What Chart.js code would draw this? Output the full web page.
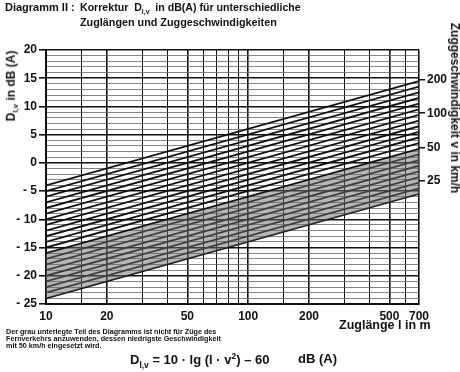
<!DOCTYPE html>
<html>
<head>
<meta charset="utf-8">
<script src="https://cdn.jsdelivr.net/npm/chart.js@4/dist/chart.umd.min.js"></script>
<style>
  body { margin: 0; background: #fff; font-family: "Liberation Sans", Arial, sans-serif; font-weight: bold; color: #111; }
  #wrap { position: relative; width: 460px; height: 372px; }
  #wrap canvas { position: absolute; left: 0; top: 0; }
  .t { position: absolute; white-space: nowrap; }
  .rot { transform: translate(-50%, -50%) rotate(-90deg); }
  .rot2 { transform: translate(-50%, -50%) rotate(90deg); }
  sub { font-size: 65%; }
</style>
</head>
<body>
<div id="wrap">
  <canvas id="chart" width="460" height="372"></canvas>
  <div class="t" style="left:5px; top:1px; font-size:11px;">Diagramm II :</div>
  <div class="t" style="left:80px; top:1px; font-size:10.6px;">Korrektur&nbsp; D<sub>l,v</sub>&nbsp; in dB(A) für unterschiedliche</div>
  <div class="t" style="left:80px; top:16px; font-size:10.8px;">Zuglängen und Zuggeschwindigkeiten</div>
  <div class="t rot" style="left:12px; top:86px; font-size:12px;">D<sub>l,v</sub> in dB (A)</div>
  <div class="t rot2" style="left:455px; top:108px; font-size:12px;">Zuggeschwindigkeit v in km/h</div>
  <div class="t" style="left:339px; top:318px; font-size:12.5px;">Zuglänge l in m</div>
  <div class="t" style="left:6px; top:329px; font-size:7.2px; line-height:6.8px;">Der grau unterlegte Teil des Diagramms ist nicht für Züge des<br>Fernverkehrs anzuwenden, dessen niedrigste Geschwindigkeit<br>mit 50 km/h eingesetzt wird.</div>
  <div class="t" style="left:130px; top:351px; font-size:13px;">D<sub>l,v</sub> = 10 · lg (l · v<sup style="font-size:65%">2</sup>) – 60</div>
  <div class="t" style="left:298px; top:351px; font-size:13px;">dB (A)</div>
</div>
<script>
// train length axis (m)
const lengthMin = 10;
const lengthMax = 700;
const lengthGrid = [10, 15, 20, 30, 40, 50, 60, 70, 80, 90, 100, 150, 200, 300, 400, 500, 600, 700];
const lengthLabels = [10, 20, 50, 100, 200, 500, 700];

// correction D at l = 10 m and at l = 700 m, one entry per speed line (top = 200 km/h)
const lineStartDb = [-4, -5, -6, -7, -8, -9, -10, -11, -12, -13, -14, -15, -16, -17, -18, -19, -20, -21, -22, -23, -24];
const lineEndDb = [14.5, 13.5, 12.5, 11.5, 10.5, 9.5, 8.5, 7.5, 6.5, 5.5, 4.5, 3.5, 2.5, 1.5, 0.5, -0.5, -1.5, -2.5, -3.5, -4.5, -5.5];

// grey band: from the 50 km/h line down to the lowest line
const greyTop = 12;
const greyBottom = 20;

// speed labels on the right side
const speedLabels = [200, 100, 50, 25];
const speedLabelDb = [14.8, 8.8, 2.7, -3.2];

const datasets = lineStartDb.map((s, i) => ({
  data: [{x: lengthMin, y: s}, {x: lengthMax, y: lineEndDb[i]}],
  borderColor: '#111',
  borderWidth: 1.8,
  pointRadius: 0,
  fill: i === greyTop ? {target: greyBottom} : false,
  backgroundColor: 'rgba(110,110,110,0.5)'
}));

const boldFont = {family: '"Liberation Sans", Arial, sans-serif', weight: 'bold', size: 12};

new Chart(document.getElementById('chart'), {
  type: 'line',
  data: {datasets},
  options: {
    responsive: false,
    animation: false,
    layout: {padding: {top: 50}},
    plugins: {legend: {display: false}, tooltip: {enabled: false}},
    scales: {
      x: {
        type: 'logarithmic',
        min: lengthMin, max: lengthMax,
        afterBuildTicks: s => { s.ticks = lengthGrid.map(v => ({value: v})); },
        afterFit: s => { s.height = 68; },
        ticks: {
          autoSkip: false, maxRotation: 0, padding: 5,
          color: '#111', font: boldFont,
          callback: v => lengthLabels.includes(v) ? String(v) : ''
        },
        grid: {
          drawTicks: false,
          color: '#111',
          lineWidth: c => lengthLabels.includes(c.tick && c.tick.value) ? 1.6 : 1
        },
        border: {color: '#111', width: 2}
      },
      y: {
        min: -25, max: 20,
        afterFit: s => { s.width = 46; },
        ticks: {
          stepSize: 1, autoSkip: false, padding: 2,
          color: '#111', font: boldFont,
          callback: v => v % 5 === 0 ? (v < 0 ? '- ' + (-v) : String(v)) : ''
        },
        grid: {
          tickLength: 7,
          color: c => c.tick && c.tick.value % 5 === 0 ? '#111' : '#666',
          lineWidth: c => c.tick && c.tick.value % 5 === 0 ? 1.6 : 0.8,
          tickColor: c => c.tick && c.tick.value % 5 === 0 ? '#111' : 'rgba(0,0,0,0)'
        },
        border: {color: '#111', width: 2}
      },
      y2: {
        position: 'right',
        min: -25, max: 20,
        afterBuildTicks: s => { s.ticks = speedLabelDb.map(v => ({value: v})); },
        afterFit: s => { s.width = 41; },
        ticks: {
          autoSkip: false, padding: 2,
          color: '#111', font: boldFont,
          callback: (v, i) => String(speedLabels[i])
        },
        grid: {drawOnChartArea: false, tickLength: 6, color: '#111', lineWidth: 1.5},
        border: {display: false}
      }
    }
  }
});
</script>
</body>
</html>
